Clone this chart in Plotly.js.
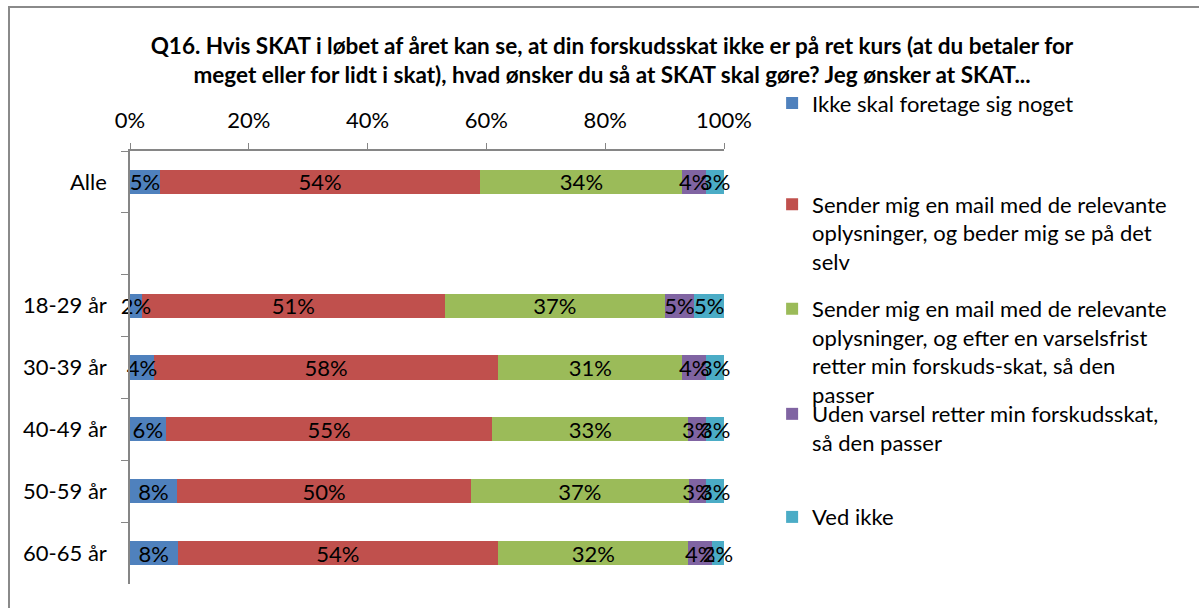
<!DOCTYPE html>
<html>
<head>
<meta charset="utf-8">
<script src="https://cdn.plot.ly/plotly-3.0.1.min.js"></script>
<style>
  body { margin: 0; background: #fff; }
  #wrap { position: relative; width: 1199px; height: 608px; }
  #frame { position: absolute; left: 8px; top: 6px; right: -10px; bottom: -10px;
           border-left: 2px solid #8a8a8a; border-top: 2px solid #8a8a8a; pointer-events: none; }
</style>
</head>
<body>
<div id="wrap">
  <div id="chart" style="width:1199px;height:608px;"></div>
  <div id="frame"></div>
</div>
<script>
// Categories (blank row separates the total from the age groups)
const groups = ['Alle', ' ', '18-29 år', '30-39 år', '40-49 år', '50-59 år', '60-65 år'];

// Answer shares in percent, one array per answer option
const ikkeNoget   = [5, null, 2, 4, 6, 8, 8];
const mailSelv    = [54, null, 51, 58, 55, 50, 54];
const mailVarsel  = [34, null, 37, 31, 33, 37, 32];
const udenVarsel  = [4, null, 5, 4, 3, 3, 4];
const vedIkke     = [3, null, 5, 3, 3, 3, 2];

const seriesNames = [
    'Ikke skal foretage sig noget',
    'Sender mig en mail med de relevante<br>oplysninger, og beder mig se på det<br>selv',
    'Sender mig en mail med de relevante<br>oplysninger, og efter en varselsfrist<br>retter min forskuds-skat, så den<br>passer',
    'Uden varsel retter min forskudsskat,<br>så den passer',
    'Ved ikke'
];
const seriesValues = [ikkeNoget, mailSelv, mailVarsel, udenVarsel, vedIkke];
const seriesColors = ['#4F81BD', '#C0504D', '#9BBB59', '#8064A2', '#4BACC6'];
const legendIds = ['legend', 'legend2', 'legend3', 'legend4', 'legend5'];

const FONT = 'Lato, "Open Sans", sans-serif';
const SIZE = 22;

// coloured bars
const barTraces = seriesValues.map((vals, i) => ({
    type: 'bar',
    orientation: 'h',
    name: seriesNames[i],
    y: groups,
    x: vals,
    marker: { color: seriesColors[i], line: { width: 0 } },
    legend: legendIds[i],
    hoverinfo: 'skip'
}));

// the same stacks again on overlaying axes, transparent, only to carry the labels on top
const labelTraces = seriesValues.map((vals, i) => ({
    type: 'bar',
    orientation: 'h',
    xaxis: 'x2',
    yaxis: 'y2',
    y: groups,
    x: vals,
    text: vals.map(v => v == null ? '' : v + '%'),
    textposition: 'inside',
    insidetextanchor: 'middle',
    textangle: 0,
    constraintext: 'none',
    cliponaxis: false,
    textfont: { family: FONT, size: SIZE, color: '#000' },
    marker: { color: 'rgba(0,0,0,0)', line: { width: 0 } },
    showlegend: false,
    hoverinfo: 'skip'
}));

// each legend entry placed on its own, like the original
const legendY = [1.159, 0.925, 0.684, 0.441, 0.203];
function legendBox(y) {
    return {
        x: 1.081, y: y, xanchor: 'left', yanchor: 'top',
        font: { family: FONT, size: SIZE, color: '#000' },
        bgcolor: 'rgba(0,0,0,0)', itemwidth: 30, valign: 'top',
        itemclick: false, itemdoubleclick: false
    };
}

const axisLine = {
    showgrid: false,
    zeroline: false,
    showline: true,
    linecolor: '#868686',
    linewidth: 1.5,
    ticks: 'outside',
    tickcolor: '#868686',
    tickfont: { family: FONT, size: SIZE, color: '#000' },
    fixedrange: true
};

const layout = {
    width: 1199,
    height: 608,
    margin: { l: 130, r: 475, t: 151, b: 24 },
    paper_bgcolor: '#fff',
    plot_bgcolor: '#fff',
    barmode: 'stack',
    barnorm: 'percent',
    bargap: 0.61,
    showlegend: true,
    font: { family: FONT, size: SIZE, color: '#000' },
    title: {
        text: '<b>Q16. Hvis SKAT i løbet af året kan se, at din forskudsskat ikke er på ret kurs (at du betaler for<br>meget eller for lidt i skat), hvad ønsker du så at SKAT skal gøre? Jeg ønsker at SKAT...</b>',
        font: { family: FONT, size: 22.5, color: '#000' },
        xref: 'container', x: 0.5104, xanchor: 'center',
        yref: 'container', y: 0.912, yanchor: 'top'
    },
    xaxis: Object.assign({}, axisLine, {
        side: 'top',
        range: [0, 100],
        dtick: 20,
        ticksuffix: '%',
        ticklen: 6,
        ticklabelstandoff: 6
    }),
    yaxis: Object.assign({}, axisLine, {
        type: 'category',
        autorange: 'reversed',
        tickson: 'boundaries',
        ticklen: 7,
        ticklabelstandoff: 17
    }),
    xaxis2: { overlaying: 'x', matches: 'x', visible: false, range: [0, 100], fixedrange: true },
    yaxis2: { overlaying: 'y', type: 'category', autorange: 'reversed', visible: false, fixedrange: true },
    legend: legendBox(legendY[0]),
    legend2: legendBox(legendY[1]),
    legend3: legendBox(legendY[2]),
    legend4: legendBox(legendY[3]),
    legend5: legendBox(legendY[4])
};

Plotly.newPlot('chart', barTraces.concat(labelTraces), layout, { displayModeBar: false });
</script>
</body>
</html>
